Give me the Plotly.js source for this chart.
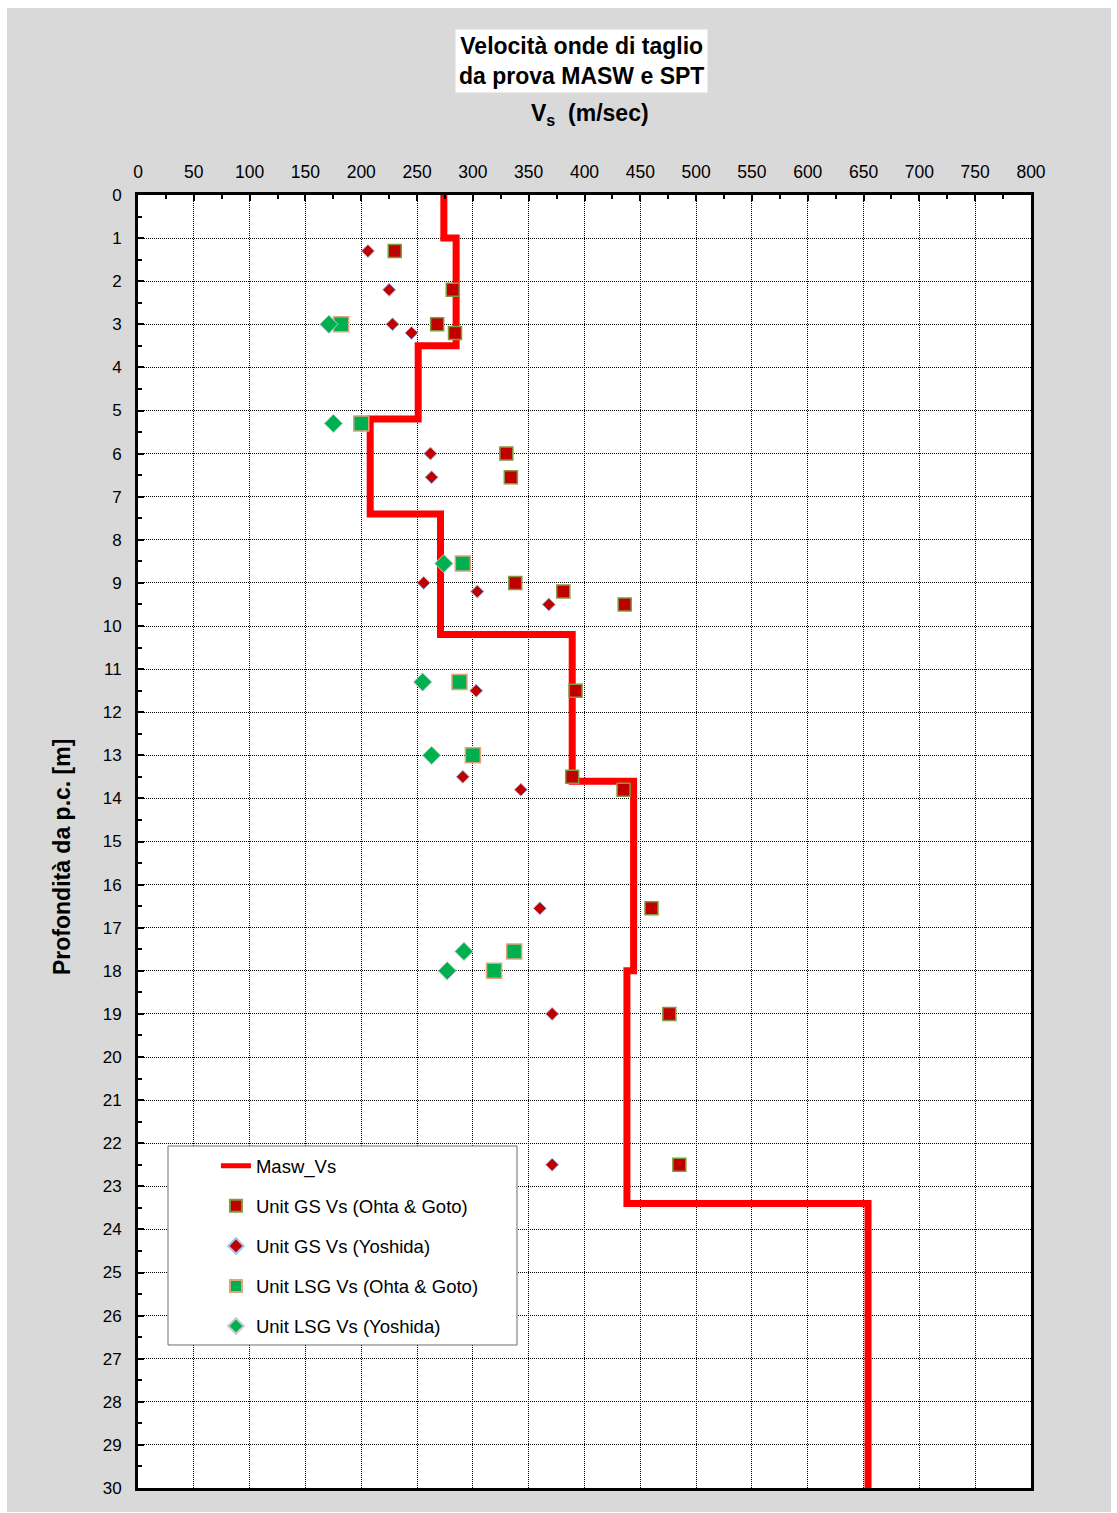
<!DOCTYPE html>
<html>
<head>
<meta charset="utf-8">
<script src="https://cdn.plot.ly/plotly-3.0.1.min.js"></script>
<style>
  html, body { margin: 0; padding: 0; background: #ffffff; }
  #wrap { position: relative; width: 1117px; height: 1513px; background: #ffffff; }
  #chart { position: absolute; left: 7px; top: 8px; width: 1104px; height: 1504px; }
</style>
</head>
<body>
<div id="wrap"><div id="chart"></div></div>
<script>
// MASW profile (step line)
const maswVs    = [274, 274, 285, 285, 251, 251, 208, 208, 271, 271, 389, 389, 444, 444, 438, 438, 654, 654];
const maswDepth = [0,   1,   1,   3.5, 3.5, 5.2, 5.2, 7.4, 7.4, 10.2,10.2,13.6,13.6,18,  18,  23.4,23.4,30];

// Unit GS - Ohta & Goto
const gsOhtaVs    = [230, 282, 268, 284, 330, 334, 338, 381, 436, 392, 389, 435, 460, 476, 485];
const gsOhtaDepth = [1.3, 2.2, 3.0, 3.2, 6.0, 6.55, 9.0, 9.2, 9.5, 11.5, 13.5, 13.8, 16.55, 19.0, 22.5];

// Unit GS - Yoshida
const gsYoshVs    = [206, 225, 228, 245, 262, 263, 256, 304, 368, 303, 291, 343, 360, 371, 371];
const gsYoshDepth = [1.3, 2.2, 3.0, 3.2, 6.0, 6.55, 9.0, 9.2, 9.5, 11.5, 13.5, 13.8, 16.55, 19.0, 22.5];

// Unit LSG - Ohta & Goto
const lsgOhtaVs    = [182, 200, 291, 288, 300, 337, 319];
const lsgOhtaDepth = [3.0, 5.3, 8.55, 11.3, 13.0, 17.55, 18.0];

// Unit LSG - Yoshida
const lsgYoshVs    = [171, 175, 274, 255, 263, 292, 277];
const lsgYoshDepth = [3.0, 5.3, 8.55, 11.3, 13.0, 17.55, 18.0];

const xTicks = [0,50,100,150,200,250,300,350,400,450,500,550,600,650,700,750,800];
const yTicks = [0,1,2,3,4,5,6,7,8,9,10,11,12,13,14,15,16,17,18,19,20,21,22,23,24,25,26,27,28,29,30];

const FONT = "Liberation Sans, Arial, sans-serif";

const traces = [
  { x: maswVs, y: maswDepth, name: 'Masw_Vs', mode: 'lines', legendgroup: 'a',
    line: { color: '#ff0000', width: 7 } },
  { x: gsOhtaVs, y: gsOhtaDepth, name: 'Unit GS Vs (Ohta & Goto)', mode: 'markers', legendgroup: 'b',
    marker: { symbol: 'square', size: 13, color: '#c00000', line: { color: '#7f9a3f', width: 1.5 } } },
  { x: gsYoshVs, y: gsYoshDepth, name: 'Unit GS Vs (Yoshida)', mode: 'markers', legendgroup: 'c',
    marker: { symbol: 'diamond', size: 10, color: '#c00000', line: { color: '#9fc3ee', width: 1 } } },
  { x: lsgOhtaVs, y: lsgOhtaDepth, name: 'Unit LSG Vs (Ohta & Goto)', mode: 'markers', legendgroup: 'd',
    marker: { symbol: 'square', size: 15, color: '#00b050', line: { color: '#e2a37c', width: 1.5 } } },
  { x: lsgYoshVs, y: lsgYoshDepth, name: 'Unit LSG Vs (Yoshida)', mode: 'markers', legendgroup: 'e',
    marker: { symbol: 'diamond', size: 14, color: '#00b050', line: { color: '#c8c8c8', width: 1 } } }
];

const layout = {
  width: 1104, height: 1504,
  paper_bgcolor: '#d9d9d9',
  plot_bgcolor: '#ffffff',
  margin: { l: 131, r: 80, t: 187, b: 24 },
  font: { family: FONT, color: '#000000', size: 17 },
  showlegend: true,
  legend: {
    x: 0.0873, y: 0.2635, xanchor: 'left', yanchor: 'top',
    bgcolor: 'rgba(0,0,0,0)', borderwidth: 0,
    font: { family: FONT, size: 18.5, color: '#000' },
    tracegroupgap: 13, itemsizing: 'constant',
    traceorder: 'grouped'
  },
  shapes: [
    { type: 'rect', xref: 'paper', yref: 'paper', x0: 0.0336, x1: 0.4244, y0: 0.1106, y1: 0.2645,
      fillcolor: '#ffffff', line: { color: '#6e6e6e', width: 1 }, layer: 'above' }
  ],
  xaxis: {
    side: 'top', range: [0, 800], tickvals: xTicks, ticktext: xTicks.map(String),
    ticks: 'inside', ticklen: 6, tickwidth: 2, tickcolor: '#000',
    tickfont: { family: FONT, size: 17.5 }, ticklabelstandoff: 7,
    showline: true, linewidth: 3, linecolor: '#000', mirror: true,
    showgrid: true, gridcolor: '#000000', gridwidth: 1, griddash: '1px,1px',
    zeroline: false,
    minor: { dtick: 25, tick0: 0, ticks: 'inside', ticklen: 4, tickwidth: 2, tickcolor: '#000', showgrid: false }
  },
  yaxis: {
    range: [30, 0], tickvals: yTicks, ticktext: yTicks.map(String),
    ticks: 'inside', ticklen: 6, tickwidth: 2, tickcolor: '#000',
    tickfont: { family: FONT, size: 17 }, ticklabelstandoff: 10,
    showline: true, linewidth: 3, linecolor: '#000', mirror: true,
    showgrid: true, gridcolor: '#000000', gridwidth: 1, griddash: '1px,1px',
    zeroline: false,
    minor: { dtick: 0.5, tick0: 0, ticks: 'inside', ticklen: 4, tickwidth: 2, tickcolor: '#000', showgrid: false }
  },
  annotations: [
    { text: '<b>Velocità onde di taglio<br>da prova MASW e SPT</b>', xref: 'paper', yref: 'paper',
      x: 0.497, y: 1.1036, xanchor: 'center', yanchor: 'middle', showarrow: false,
      font: { family: FONT, size: 23, color: '#000' }, bgcolor: '#ffffff', borderpad: 3, align: 'center' },
    { text: '<b>V<sub>s</sub>  (m/sec)</b>', xref: 'paper', yref: 'paper',
      x: 0.506, y: 1.0619, xanchor: 'center', yanchor: 'middle', showarrow: false,
      font: { family: FONT, size: 23, color: '#000' } },
    { text: '<b>Profondità da p.c. [m]</b>', xref: 'paper', yref: 'paper',
      x: -0.0851, y: 0.488, xanchor: 'center', yanchor: 'middle', showarrow: false, textangle: -90,
      font: { family: FONT, size: 23, color: '#000' } }
  ]
};

Plotly.newPlot('chart', traces, layout, { displayModeBar: false, responsive: false });
</script>
</body>
</html>
